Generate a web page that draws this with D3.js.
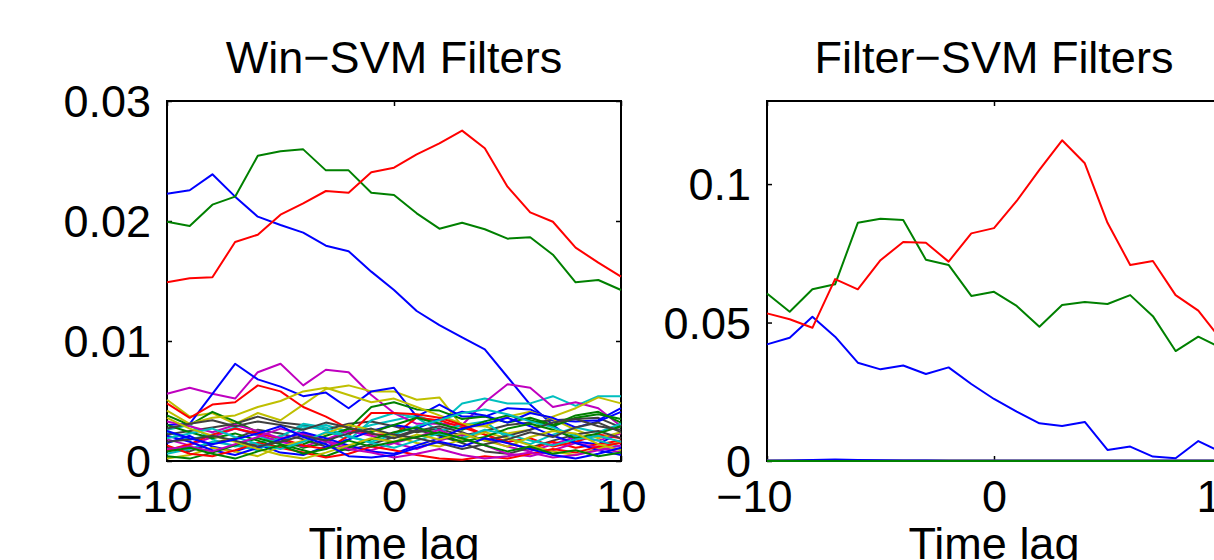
<!DOCTYPE html>
<html><head><meta charset="utf-8">
<script src="https://cdn.jsdelivr.net/npm/d3@7"></script>
<style>
html,body{margin:0;padding:0;background:#fff;overflow:hidden}
text{font-family:"Liberation Sans",Arial,Helvetica,sans-serif;fill:#000}
</style></head>
<body><svg id="c" width="1214" height="560"></svg>
<script>
// ---------- data ----------
const lags = [-10,-9,-8,-7,-6,-5,-4,-3,-2,-1,0,1,2,3,4,5,6,7,8,9,10];
const xTicks = [-10,0,10];
const winYTicks = [0,0.01,0.02,0.03];
const filtYTicks = [0,0.05,0.1];
const titles = ["Win\u2212SVM Filters","Filter\u2212SVM Filters"];
const xLabel = "Time lag";

// Win-SVM: three dominant filters
const winBlue  = [0.02228,0.02256,0.02389,0.02203,0.02036,0.01967,0.01903,0.01794,0.01748,0.01578,0.01425,0.0125,0.01133,0.0103,0.00931,0.0070,0.0047,0.0030,0.0016,0.0014,0.0024];
const winGreen = [0.01994,0.01958,0.02136,0.02203,0.02544,0.02581,0.02597,0.02422,0.02422,0.02236,0.02217,0.02064,0.01936,0.01986,0.01931,0.01853,0.01864,0.01719,0.01489,0.01508,0.01425];
const winRed   = [0.01489,0.01522,0.01531,0.01825,0.01886,0.02053,0.02147,0.0225,0.02236,0.02406,0.02444,0.02556,0.02647,0.02753,0.02606,0.02286,0.02072,0.01994,0.01778,0.01653,0.01536];
// Win-SVM: remaining small filters
const winS01 = [0.0024,0.0018,0.0022,0.0028,0.0021,0.0015,0.0027,0.0030,0.0024,0.0030,0.0034,0.0038,0.0031,0.0048,0.0052,0.0048,0.0048,0.0054,0.0046,0.0054,0.0054];
const winS02 = [0.0056,0.0061,0.0056,0.0052,0.0074,0.0081,0.0063,0.0076,0.0074,0.0055,0.0040,0.0031,0.0031,0.0030,0.0049,0.0064,0.0061,0.0045,0.0049,0.0044,0.0029];
const winS03 = [0.0051,0.0037,0.0040,0.0031,0.0040,0.0034,0.0047,0.0060,0.0063,0.0058,0.0058,0.0051,0.0053,0.0029,0.0029,0.0023,0.0026,0.0037,0.0044,0.0053,0.0048];
const winS04 = [0.0022,0.0025,0.0028,0.0031,0.0037,0.0032,0.0030,0.0026,0.0031,0.0033,0.0029,0.0024,0.0027,0.0021,0.0025,0.0030,0.0032,0.0034,0.0035,0.0036,0.0028];
const winS05 = [0.0030,0.0031,0.0056,0.0081,0.0068,0.0062,0.0054,0.0057,0.0044,0.0058,0.0061,0.0037,0.0047,0.0037,0.0037,0.0044,0.0043,0.0034,0.0033,0.0034,0.0044];
const winS06 = [0.0038,0.0030,0.0041,0.0033,0.0024,0.0018,0.0011,0.0015,0.0027,0.0045,0.0049,0.0043,0.0042,0.0035,0.0037,0.0032,0.0036,0.0030,0.0038,0.0041,0.0032];
const winS07 = [0.0048,0.0036,0.0047,0.0049,0.0063,0.0058,0.0045,0.0037,0.0027,0.0022,0.0022,0.0036,0.0034,0.0028,0.0022,0.0016,0.0019,0.0012,0.0016,0.0022,0.0019];
const winS08 = [0.0026,0.0030,0.0018,0.0012,0.0015,0.0021,0.0029,0.0026,0.0017,0.0034,0.0040,0.0036,0.0025,0.0030,0.0033,0.0019,0.0014,0.0022,0.0028,0.0024,0.0031];
const winS09 = [0.0018,0.0013,0.0020,0.0027,0.0022,0.0016,0.0012,0.0018,0.0025,0.0021,0.0015,0.0010,0.0017,0.0022,0.0018,0.0012,0.0008,0.0014,0.0020,0.0017,0.0023];
const winS10 = [0.0042,0.0031,0.0036,0.0038,0.0045,0.0050,0.0058,0.0061,0.0055,0.0049,0.0052,0.0045,0.0038,0.0031,0.0029,0.0037,0.0041,0.0035,0.0026,0.0019,0.0024];
const winS11 = [0.0011,0.0008,0.0015,0.0019,0.0026,0.0023,0.0018,0.0012,0.0009,0.0014,0.0020,0.0026,0.0021,0.0015,0.0008,0.0006,0.0011,0.0017,0.0022,0.0025,0.0019];
const winS12 = [0.0015,0.0021,0.0012,0.0008,0.0014,0.0007,0.0005,0.0012,0.0018,0.0025,0.0030,0.0027,0.0035,0.0041,0.0038,0.0032,0.0040,0.0036,0.0028,0.0033,0.0041];
const winS13 = [0.0030,0.0024,0.0019,0.0023,0.0017,0.0011,0.0014,0.0021,0.0027,0.0024,0.0030,0.0036,0.0031,0.0026,0.0033,0.0038,0.0034,0.0029,0.0036,0.0039,0.0035];
const winS14 = [0.0009,0.0014,0.0022,0.0027,0.0023,0.0019,0.0013,0.0010,0.0021,0.0040,0.0040,0.0039,0.0036,0.0030,0.0022,0.0015,0.0010,0.0016,0.0011,0.0014,0.0017];
const winS15 = [0.0006,0.0010,0.0016,0.0013,0.0009,0.0020,0.0031,0.0028,0.0020,0.0016,0.0022,0.0029,0.0034,0.0040,0.0043,0.0039,0.0033,0.0028,0.0021,0.0017,0.0012];
const winS16 = [0.0033,0.0029,0.0024,0.0030,0.0025,0.0019,0.0023,0.0017,0.0012,0.0009,0.0015,0.0020,0.0026,0.0018,0.0013,0.0006,0.0004,0.0009,0.0015,0.0011,0.0007];
const winS17 = [0.0002,0.0005,0.0011,0.0008,0.0004,0.0012,0.0017,0.0023,0.0030,0.0026,0.0021,0.0015,0.0012,0.0018,0.0024,0.0019,0.0013,0.0008,0.0005,0.0010,0.0016];
const winS18 = [0.0027,0.0031,0.0034,0.0029,0.0033,0.0030,0.0026,0.0032,0.0028,0.0023,0.0019,0.0025,0.0029,0.0024,0.0017,0.0021,0.0026,0.0032,0.0035,0.0029,0.0026];
const winS19 = [0.0021,0.0016,0.0009,0.0005,0.0011,0.0018,0.0024,0.0019,0.0013,0.0008,0.0006,0.0013,0.0019,0.0027,0.0031,0.0036,0.0029,0.0021,0.0015,0.0009,0.0005];
const winS20 = [0.0004,0.0002,0.0007,0.0013,0.0019,0.0014,0.0009,0.0004,0.0011,0.0018,0.0024,0.0028,0.0022,0.0016,0.0020,0.0027,0.0031,0.0026,0.0019,0.0023,0.0029];
const winS21 = [0.0013,0.0006,0.0004,0.0009,0.0015,0.0011,0.0007,0.0003,0.0006,0.0012,0.0009,0.0005,0.0002,0.0001,0.0004,0.0002,0.0006,0.0010,0.0007,0.0012,0.0015];
const winS22 = [0.0019,0.0023,0.0027,0.0020,0.0014,0.0010,0.0016,0.0024,0.0021,0.0015,0.0011,0.0017,0.0023,0.0019,0.0026,0.0022,0.0017,0.0013,0.0018,0.0021,0.0016];
const winS23 = [0.0010,0.0012,0.0008,0.0014,0.0020,0.0027,0.0022,0.0016,0.0010,0.0007,0.0003,0.0006,0.0010,0.0005,0.0002,0.0004,0.0007,0.0003,0.0005,0.0009,0.0013];
const winS24 = [0.0036,0.0027,0.0021,0.0016,0.0010,0.0005,0.0002,0.0007,0.0013,0.0019,0.0016,0.0022,0.0018,0.0023,0.0017,0.0012,0.0020,0.0025,0.0023,0.0014,0.0009];
const winS25 = [0.0016,0.0018,0.0021,0.0017,0.0012,0.0016,0.0021,0.0017,0.0023,0.0027,0.0022,0.0019,0.0015,0.0010,0.0014,0.0018,0.0024,0.0020,0.0028,0.0032,0.0024];
const winS26 = [0.0025,0.0019,0.0014,0.0018,0.0023,0.0029,0.0020,0.0014,0.0004,0.0003,0.0005,0.0011,0.0016,0.0012,0.0019,0.0015,0.0010,0.0005,0.0002,0.0006,0.0011];
const winS27 = [0.0008,0.0011,0.0006,0.0002,0.0008,0.0013,0.0006,0.0010,0.0017,0.0012,0.0016,0.0020,0.0024,0.0019,0.0013,0.0008,0.0012,0.0006,0.0009,0.0004,0.0007];

// Filter-SVM: three dominant filters
const filtBlue  = [0.0421,0.0445,0.0521,0.0449,0.0355,0.0331,0.0345,0.0314,0.0338,0.0278,0.0224,0.0178,0.0136,0.0126,0.0141,0.0040,0.0052,0.0016,0.0010,0.0072,0.0032];
const filtGreen = [0.0605,0.0539,0.0620,0.0638,0.0860,0.0875,0.0870,0.0727,0.0708,0.0596,0.0611,0.0560,0.0485,0.0563,0.0574,0.0567,0.0599,0.0523,0.0397,0.0449,0.0409];
const filtRed   = [0.0533,0.0512,0.0481,0.0657,0.0620,0.0725,0.0791,0.0788,0.0720,0.0822,0.0841,0.0939,0.1051,0.1158,0.1075,0.0860,0.0708,0.0722,0.0599,0.0543,0.0439];
// Filter-SVM: near-zero filters
const filtS1 = [0.0001,0.0001,0.0002,0.0001,0.0001,0.0001,0.0001,0.0001,0.0001,0.0001,0.0001,0.0001,0.0001,0.0001,0.0001,0.0001,0.0001,0.0001,0.0001,0.0001,0.0001];
const filtS2 = [0.0001,0.0001,0.0001,0.0002,0.0002,0.0001,0.0001,0.0001,0.0001,0.0001,0.0001,0.0001,0.0001,0.0001,0.0001,0.0001,0.0001,0.0001,0.0001,0.0001,0.0001];
const filtS3 = [0.0001,0.0001,0.0001,0.0001,0.0001,0.0001,0.0001,0.0001,0.0001,0.0001,0.0001,0.0001,0.0001,0.0001,0.0001,0.0001,0.0001,0.0001,0.0001,0.0001,0.0001];
const filtS4 = [0.0001,0.0001,0.0001,0.0001,0.0001,0.0001,0.0001,0.0001,0.0001,0.0001,0.0001,0.0001,0.0001,0.0001,0.0001,0.0001,0.0001,0.0001,0.0001,0.0001,0.0001];
const filtS5 = [0.0001,0.0002,0.0004,0.0005,0.0004,0.0003,0.0002,0.0002,0.0001,0.0001,0.0001,0.0001,0.0001,0.0001,0.0001,0.0001,0.0001,0.0001,0.0001,0.0001,0.0001];
const filtS6 = [0,0,0,0,0,0,0,0,0,0,0,0,0,0,0,0,0,0,0,0,0];

const matlabColors = ["#0000ff","#008000","#ff0000","#00bfbf","#bf00bf","#bfbf00","#404040"];

// ---------- drawing ----------
const svg = d3.select("#c");
const FONT = 45;

function panel(opts){
  const {left, right, top, bottom, yMax, yTicks, series, title} = opts;
  const x = d3.scaleLinear().domain([-10,10]).range([left,right]);
  const y = d3.scaleLinear().domain([0,yMax]).range([bottom,top]);
  const g = svg.append("g");

  const fmtY = d => d===0 ? "0" : String(+d.toFixed(3));
  const fmtX = d => d<0 ? "\u2212"+Math.abs(d) : String(d);

  // axes
  const gb = g.append("g").attr("transform",`translate(0,${bottom})`)
    .call(d3.axisBottom(x).tickValues(xTicks).tickSizeInner(-5).tickSizeOuter(0).tickPadding(20).tickFormat(fmtX));
  gb.selectAll("text").attr("font-size",FONT).attr("dy","0.69em")
    .each(function(d){ if(d<0){ d3.select(this).attr("text-anchor","end").attr("x",25);} });
  g.append("g").attr("transform",`translate(0,${top})`)
    .call(d3.axisTop(x).tickValues(xTicks).tickSizeInner(-5).tickSizeOuter(0).tickFormat(""));
  const gl = g.append("g").attr("transform",`translate(${left},0)`)
    .call(d3.axisLeft(y).tickValues(yTicks).tickSizeInner(-5).tickSizeOuter(0).tickPadding(16).tickFormat(fmtY));
  gl.selectAll("text").attr("font-size",FONT).attr("dy","0.35em");
  g.append("g").attr("transform",`translate(${right},0)`)
    .call(d3.axisRight(y).tickValues(yTicks).tickSizeInner(-5).tickSizeOuter(0).tickFormat(""));
  g.selectAll(".domain").remove();
  g.selectAll(".tick line").attr("stroke","#000").attr("stroke-width",1.5);
  g.selectAll(".tick text").attr("font-family",null).attr("fill","#000");
  g.append("rect").attr("x",left).attr("y",top).attr("width",right-left).attr("height",bottom-top)
    .attr("fill","none").attr("stroke","#000").attr("stroke-width",2);

  // lines
  const line = d3.line().x((d,i)=>x(lags[i])).y(d=>y(d));
  g.append("g").selectAll("path").data(series).join("path")
    .attr("d",line).attr("fill","none")
    .attr("stroke",(d,i)=>matlabColors[i%7]).attr("stroke-width",2)
    .attr("stroke-linejoin","round");

  // labels
  g.append("text").attr("x",(left+right)/2).attr("y",73).attr("text-anchor","middle")
    .attr("font-size",FONT).text(title);
  g.append("text").attr("x",(left+right)/2).attr("y",559).attr("text-anchor","middle")
    .attr("font-size",FONT).text(xLabel);
}

panel({left:167,right:621,top:101,bottom:461,yMax:0.03,yTicks:winYTicks,title:titles[0],
  series:[winBlue,winGreen,winRed,winS01,winS02,winS03,winS04,winS05,winS06,winS07,winS08,winS09,winS10,
          winS11,winS12,winS13,winS14,winS15,winS16,winS17,winS18,winS19,winS20,winS21,winS22,winS23,winS24,
          winS25,winS26,winS27]});
panel({left:767,right:1221,top:101,bottom:461,yMax:0.13,yTicks:filtYTicks,title:titles[1],
  series:[filtBlue,filtGreen,filtRed,filtS1,filtS2,filtS3,filtS4,filtS5,filtS6]});
</script></body></html>
